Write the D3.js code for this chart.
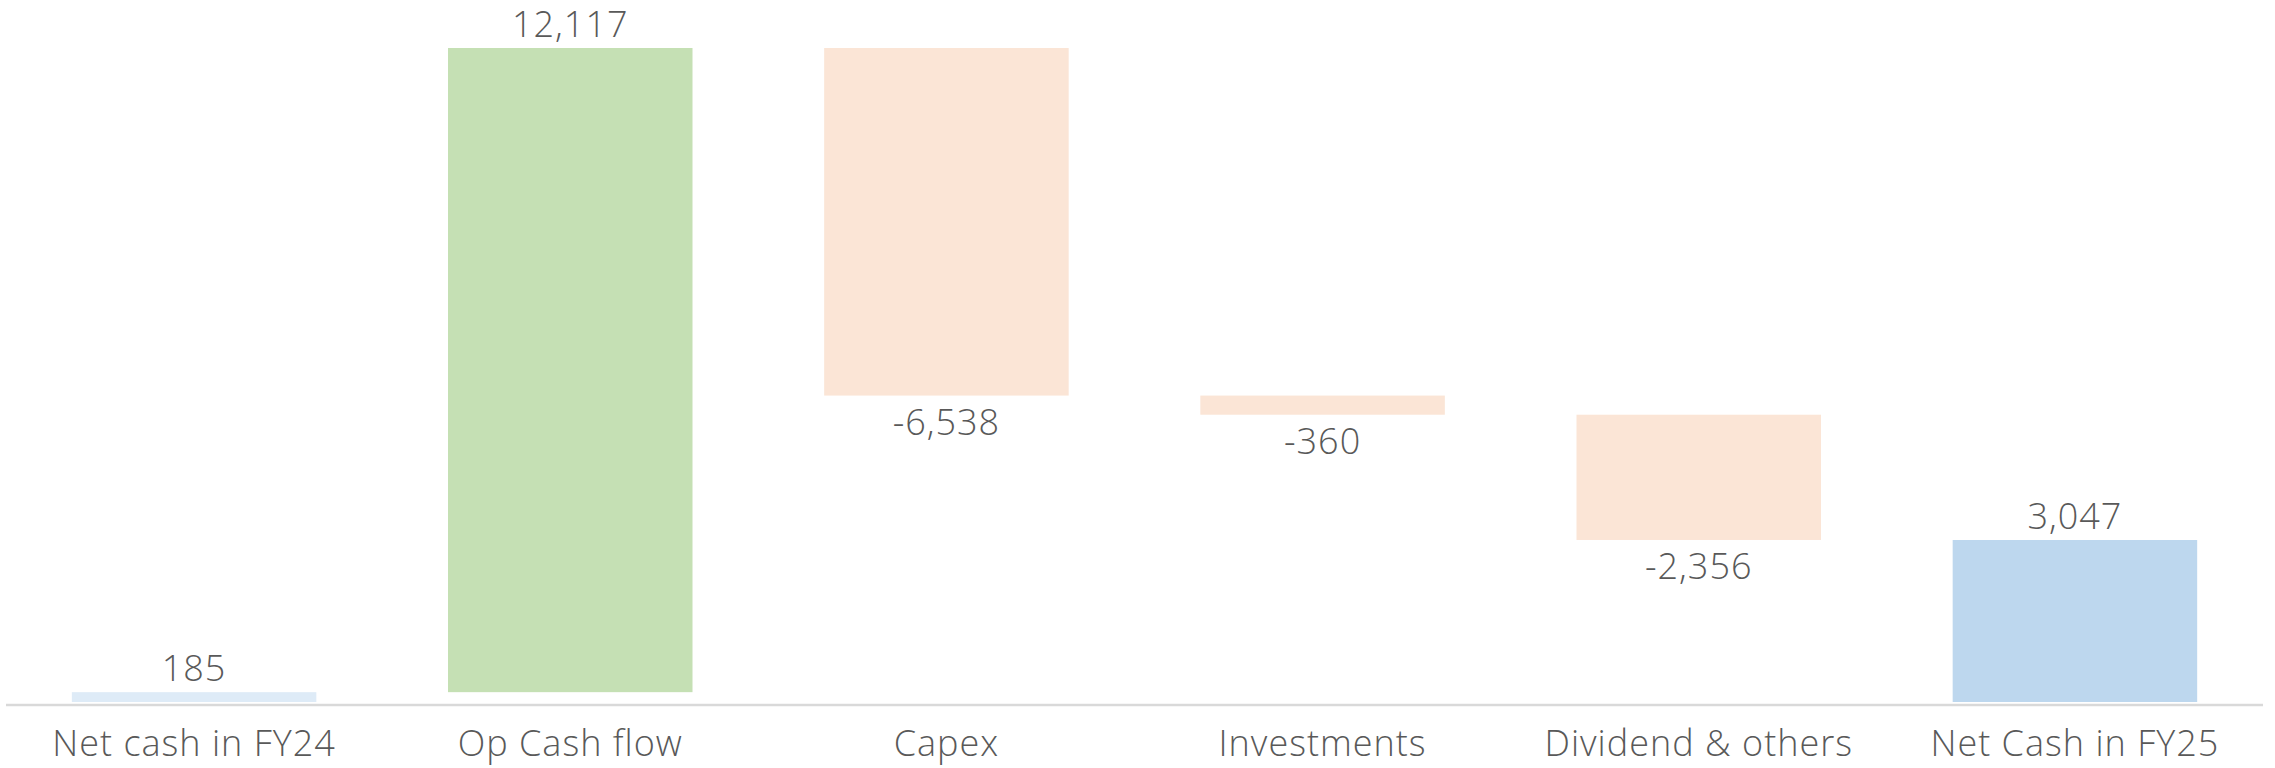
<!DOCTYPE html>
<html>
<head>
<meta charset="utf-8">
<script src="https://cdn.jsdelivr.net/npm/d3@7"></script>
<style>
  body { margin: 0; background: #fff; }
  text { font-family: "Century Gothic", "Open Sans", sans-serif; font-weight: 300; letter-spacing: 1px; fill: #595959; }
</style>
</head>
<body>
<div class="chart"></div>
<script>
// waterfall data
var categories = ["Net cash in FY24", "Op Cash flow", "Capex", "Investments", "Dividend & others", "Net Cash in FY25"];
var values = [185, 12117, -6538, -360, -2356, 3047];
var kinds = ["start", "up", "down", "down", "down", "end"];

var colors = {start: "#DEEBF7", up: "#C5E0B4", down: "#FBE5D6", end: "#BDD7EE"};

var width = 2275, height = 768;

var svg = d3.select(".chart").append("svg")
    .attr("width", width)
    .attr("height", height);

// running totals -> floating bars
var running = 0;
var bars = categories.map(function(c, i) {
    var v = values[i], lo, hi;
    if (kinds[i] == "start" || kinds[i] == "end") {
        lo = 0; hi = v; running = v;
    } else {
        lo = running; hi = running + v; running = hi;
    }
    return {name: c, value: v, kind: kinds[i], y0: Math.min(lo, hi), y1: Math.max(lo, hi)};
});

var x = d3.scaleBand()
    .domain(categories)
    .range([6, 2263])
    .paddingInner(0.35)
    .paddingOuter(0.175);

var y = d3.scaleLinear()
    .domain([0, d3.max(bars, function(d) { return d.y1; })])
    .range([702, 48]);

var fmt = d3.formatLocale({decimal: ".", thousands: ",", grouping: [3], currency: ["", ""], minus: "-"}).format(",");

svg.append("g")
    .selectAll("rect")
    .data(bars)
    .enter().append("rect")
        .attr("x", function(d) { return x(d.name); })
        .attr("width", x.bandwidth())
        .attr("y", function(d) { return y(d.y1); })
        .attr("height", function(d) { return Math.max(1, y(d.y0) - y(d.y1)); })
        .attr("fill", function(d) { return colors[d.kind]; });

// base line
svg.append("line")
    .attr("x1", x.range()[0])
    .attr("x2", x.range()[1])
    .attr("y1", y(0) + 3)
    .attr("y2", y(0) + 3)
    .attr("stroke", "#D9D9D9")
    .attr("stroke-width", 2.5);

// value labels
svg.append("g")
    .selectAll("text")
    .data(bars)
    .enter().append("text")
        .attr("x", function(d) { return x(d.name) + x.bandwidth() / 2; })
        .attr("y", function(d) { return d.value < 0 ? y(d.y0) + 39 : y(d.y1) - 11; })
        .attr("text-anchor", "middle")
        .attr("font-size", 36)
        .text(function(d) { return fmt(d.value); });

// category labels
svg.append("g")
    .selectAll("text")
    .data(categories)
    .enter().append("text")
        .attr("x", function(d) { return x(d) + x.bandwidth() / 2; })
        .attr("y", 756)
        .attr("text-anchor", "middle")
        .attr("font-size", 36)
        .text(function(d) { return d; });
</script>
</body>
</html>
